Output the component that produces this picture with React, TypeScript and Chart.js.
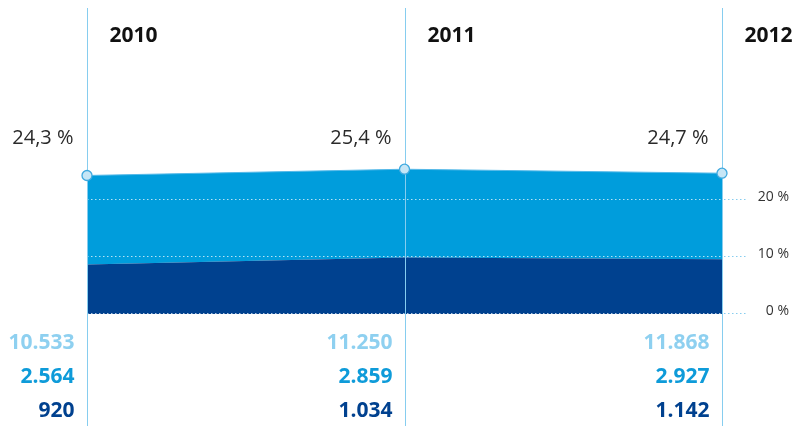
import React, { useEffect, useRef } from "react";
import { Chart, registerables } from "chart.js";

Chart.register(...registerables);

const years = ["2010", "2011", "2012"];
const totals = [10533, 11250, 11868];
const partA = [2564, 2859, 2927];
const partB = [920, 1034, 1142];
const shareTop = [24.3, 25.4, 24.7];
const shareDark = [8.7, 9.9, 9.6];
const yTicks = [0, 10, 20];

const DARK = "#00418f";
const LIGHT = "#009ddc";
const PALE = "#8ed0f0";
const LINE = "#86cdef";

const fmt = (n: number) => String(n).replace(/\B(?=(\d{3})+(?!\d))/g, ".");
const pctLabel = (v: number) => `${v.toFixed(1).replace(".", ",")} %`;

const FONT = "'Open Sans', sans-serif";

const overlay = {
  id: "overlay",
  afterDatasetsDraw(chart: any) {
    const { ctx, chartArea, scales } = chart;
    const x = scales.x;
    const y = scales.y;
    const H = chart.height;
    const W = chart.width;
    ctx.save();
    // dotted gridlines
    yTicks.forEach((t) => {
      const py = Math.round(y.getPixelForValue(t)) - 0.5;
      ctx.lineWidth = 1;
      ctx.setLineDash([1.5, 2.5]);
      ctx.strokeStyle = "rgba(255,255,255,0.7)";
      ctx.beginPath();
      ctx.moveTo(chartArea.left, py);
      ctx.lineTo(chartArea.right, py);
      ctx.stroke();
      ctx.strokeStyle = LINE;
      ctx.beginPath();
      ctx.moveTo(chartArea.right + 2, py);
      ctx.lineTo(chartArea.right + 26, py);
      ctx.stroke();
      ctx.setLineDash([]);
      ctx.fillStyle = "#333";
      ctx.font = `14px ${FONT}`;
      ctx.textAlign = "right";
      ctx.textBaseline = "alphabetic";
      ctx.fillText(`${t} %`, W - 8, py + 1.5);
    });
    // vertical lines
    years.forEach((yr, i) => {
      const px = Math.round(x.getPixelForValue(i)) + 0.5;
      ctx.strokeStyle = LINE;
      ctx.lineWidth = 1;
      ctx.beginPath();
      ctx.moveTo(px, 8);
      ctx.lineTo(px, H);
      ctx.stroke();
      // year label
      ctx.fillStyle = "#111";
      ctx.font = `bold 21px ${FONT}`;
      ctx.textAlign = "left";
      ctx.textBaseline = "alphabetic";
      ctx.fillText(yr, px + 22, 42);
      // share label
      ctx.fillStyle = "#2a2a2a";
      ctx.font = `20px ${FONT}`;
      ctx.textAlign = "right";
      ctx.fillText(pctLabel(shareTop[i]), px - 14, 144);
      // numbers
      ctx.font = `bold 21px ${FONT}`;
      ctx.fillStyle = PALE;
      ctx.fillText(fmt(totals[i]), px - 13, 349);
      ctx.fillStyle = "#0e9bd9";
      ctx.fillText(fmt(partA[i]), px - 13, 383);
      ctx.fillStyle = DARK;
      ctx.fillText(fmt(partB[i]), px - 13, 417);
    });
    // markers
    const meta = chart.getDatasetMeta(1);
    meta.data.forEach((pt: any) => {
      ctx.beginPath();
      ctx.arc(pt.x, pt.y, 5, 0, Math.PI * 2);
      ctx.fillStyle = "#c6e6f6";
      ctx.fill();
      ctx.lineWidth = 1.3;
      ctx.strokeStyle = "#3fa9df";
      ctx.stroke();
    });
    ctx.restore();
  },
};

export default function App() {
  const ref = useRef<HTMLCanvasElement>(null);
  useEffect(() => {
    document.body.style.margin = "0";
    document.body.style.overflow = "hidden";
    const chart = new Chart(ref.current as HTMLCanvasElement, {
      type: "line",
      data: {
        labels: years,
        datasets: [
          {
            data: shareDark,
            fill: "origin",
            backgroundColor: DARK,
            borderWidth: 0,
            pointRadius: 0,
            tension: 0,
          },
          {
            data: shareTop,
            fill: "-1",
            backgroundColor: LIGHT,
            borderColor: "#55b9e8",
            borderWidth: 1,
            pointRadius: 0,
            tension: 0,
          },
        ],
      },
      options: {
        animation: false,
        responsive: false,
        devicePixelRatio: 1,
        layout: { padding: { left: 87, right: 75, top: 29, bottom: 112 } },
        scales: {
          x: { type: "category", offset: false, display: false },
          y: { min: 0, max: 50, display: false },
        },
        plugins: { legend: { display: false }, tooltip: { enabled: false } },
      },
      plugins: [overlay],
    } as any);
    return () => chart.destroy();
  }, []);
  return (
    <div style={{ width: 797, height: 426, background: "#fff" }}>
      <canvas ref={ref} width={797} height={426} style={{ display: "block" }} />
    </div>
  );
}
